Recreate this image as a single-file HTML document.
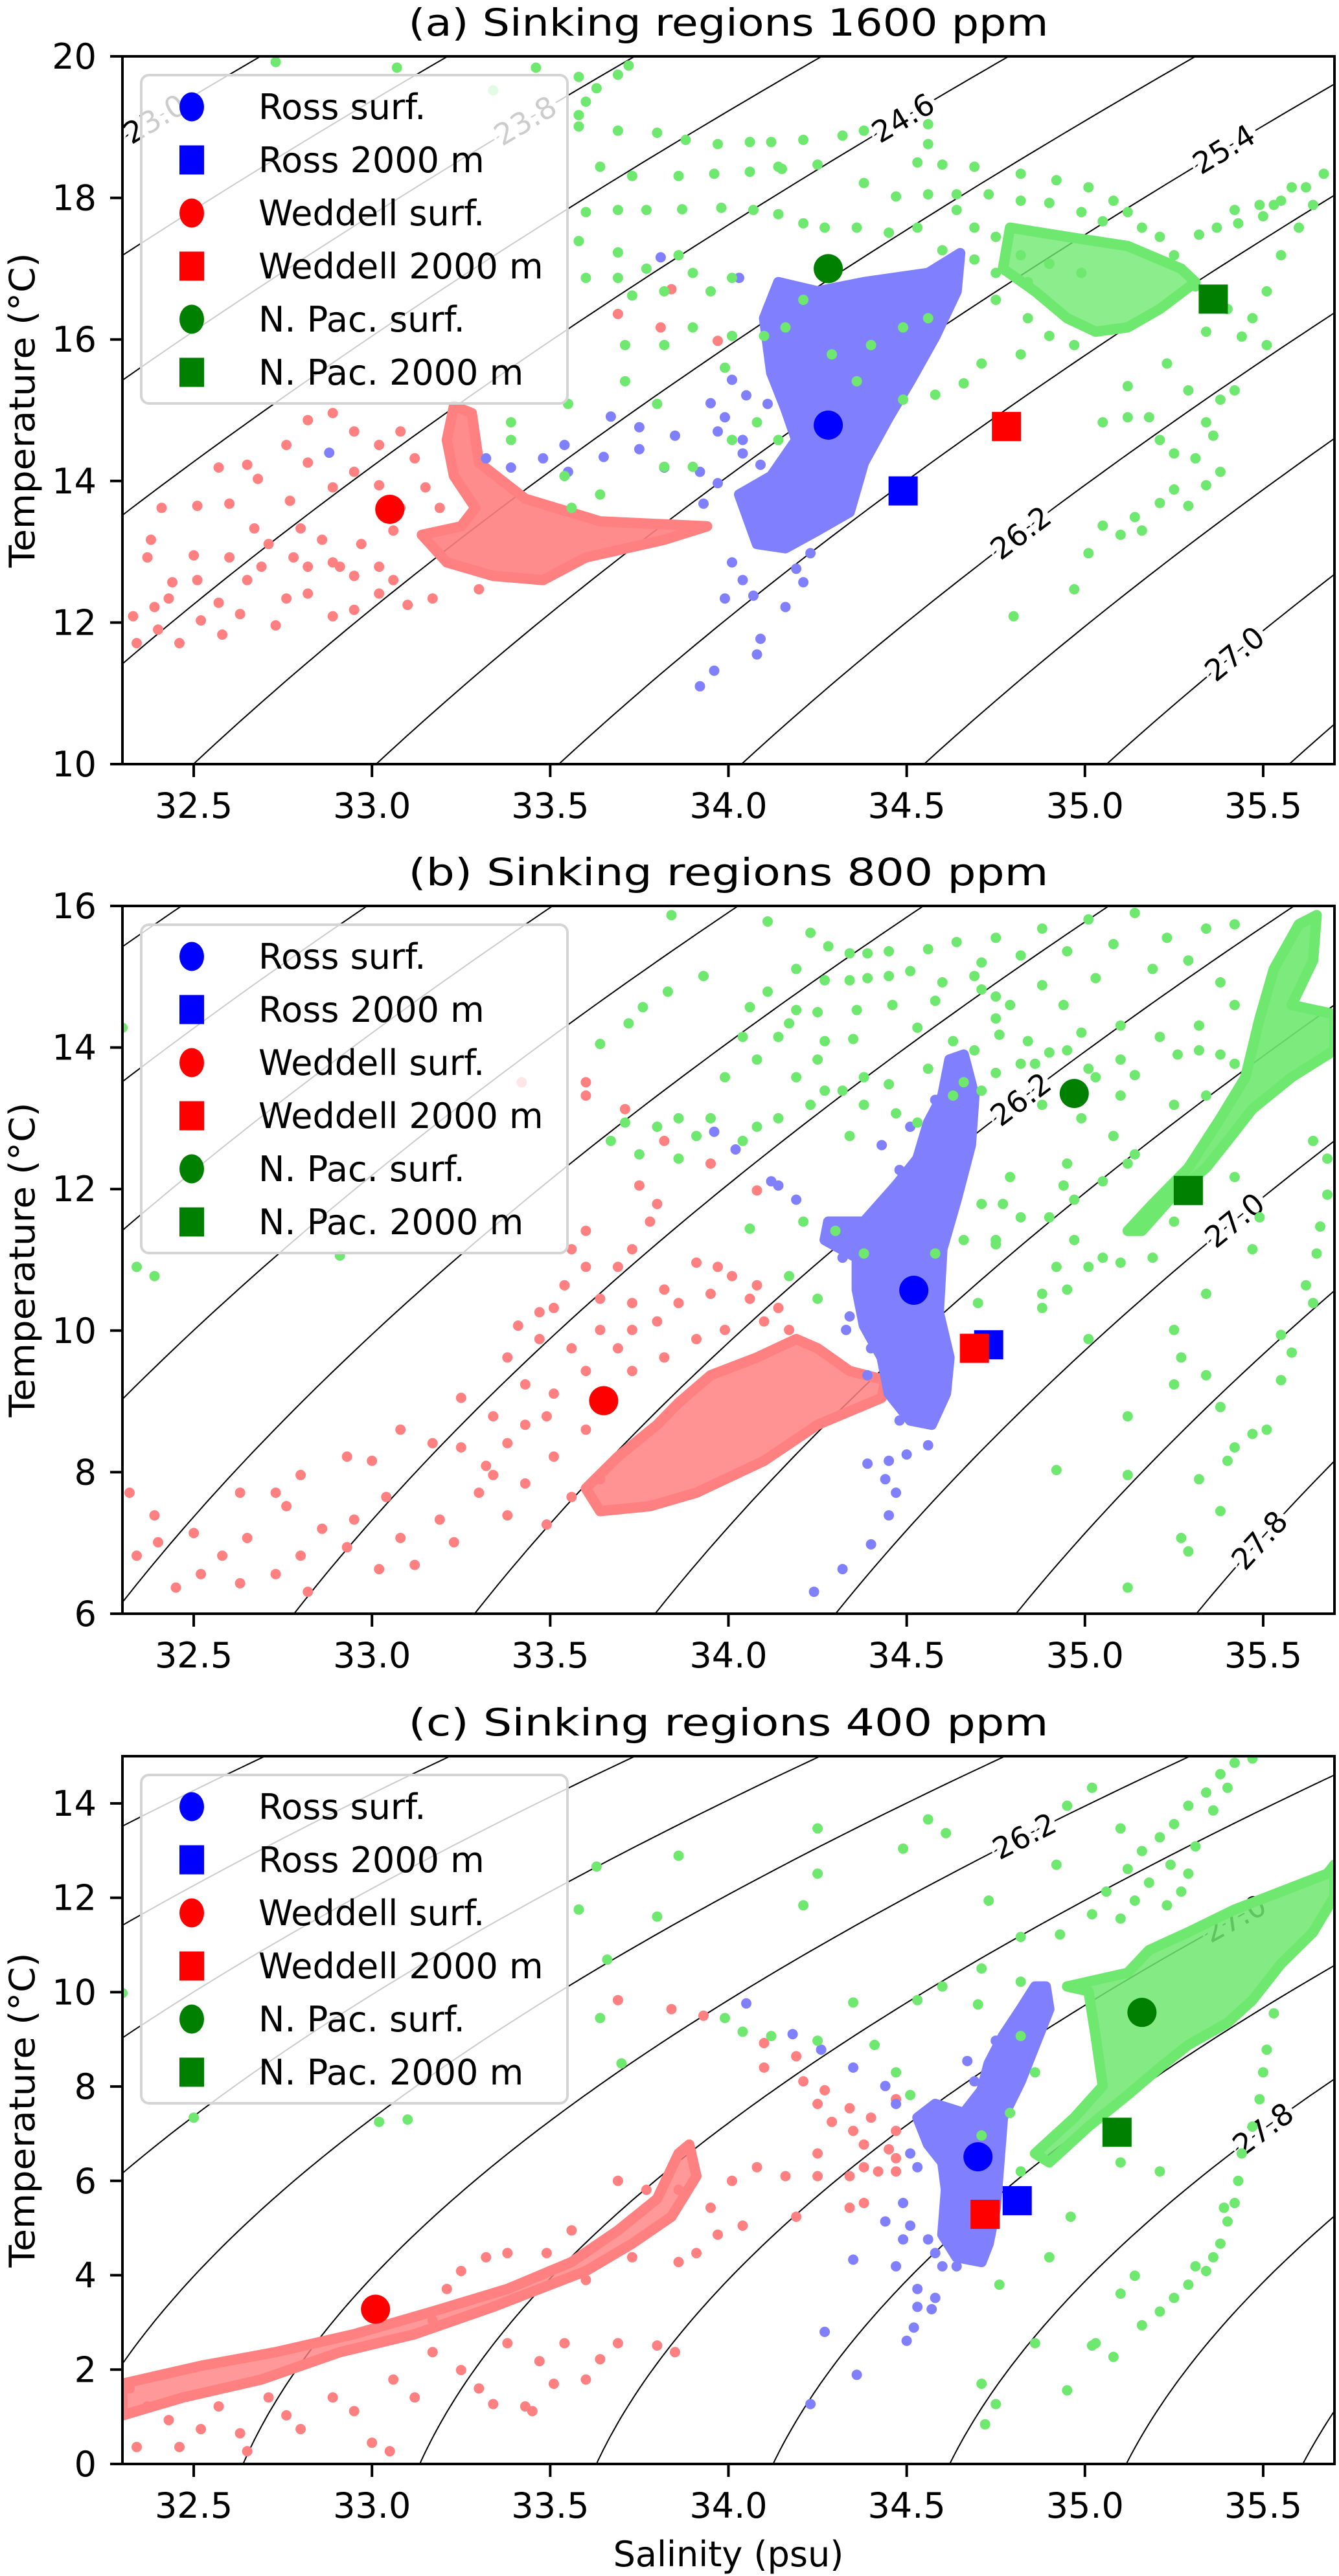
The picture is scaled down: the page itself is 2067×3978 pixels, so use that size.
<!DOCTYPE html>
<html><head><meta charset="utf-8"><title>Sinking regions T-S diagrams</title>
<style>html,body{margin:0;padding:0;background:#fff}svg{display:block}text{font-family:"DejaVu Sans","Liberation Sans",sans-serif}</style>
</head><body>
<svg id="fig" xmlns="http://www.w3.org/2000/svg" width="2067" height="3978" viewBox="0 0 2067 3978"></svg>
<script>
// ---------------- DATA (Salinity psu, Temperature °C pairs) ----------------
const panelTitles=["(a) Sinking regions 1600 ppm","(b) Sinking regions 800 ppm","(c) Sinking regions 400 ppm"];
const panelTRange=[[10,20],[6,16],[0,15]];
const panelYTicks=[[10,12,14,16,18,20],[6,8,10,12,14,16],[0,2,4,6,8,10,12,14]];
const xTicks=[32.5,33.0,33.5,34.0,34.5,35.0,35.5];
const xTickLabels=["32.5","33.0","33.5","34.0","34.5","35.0","35.5"];
const contourLabelsA=[[23.0,32.39],[23.8,33.43],[24.6,34.49],[25.4,35.39],[26.2,34.82],[27.0,35.42]];
const contourLabelsB=[[26.2,34.82],[27.0,35.42],[27.8,35.49]];
const contourLabelsC=[[26.2,34.83],[27.0,35.42],[27.8,35.50]];
const legendNames=["Ross surf.","Ross 2000 m","Weddell surf.","Weddell 2000 m","N. Pac. surf.","N. Pac. 2000 m"];
const markersA=[34.28,14.79, 34.49,13.86, 33.05,13.60, 34.78,14.77, 34.28,17.00, 35.36,16.57];
const markersB=[34.52,10.57, 34.73,9.80, 33.65,9.01, 34.69,9.75, 34.97,13.35, 35.29,11.98];
const markersC=[34.70,6.51, 34.81,5.58, 33.01,3.28, 34.72,5.29, 35.16,9.57, 35.09,7.03];

const aBlueCore=[34.10,16.30,34.14,16.81,34.25,16.68,34.38,16.81,34.56,16.94,34.65,17.22,34.64,16.68,34.58,16.04,34.51,15.41,34.45,14.90,34.38,14.26,34.34,13.56,34.25,13.30,34.16,13.05,34.08,13.11,34.03,13.81,34.12,14.07,34.19,14.58,34.16,15.02,34.12,15.53];
const aBluePts=[33.81,17.16,34.03,16.87,33.67,14.91,33.75,14.76,33.65,14.34,33.75,14.45,33.85,14.64,33.95,15.10,34.01,15.43,34.05,15.21,34.11,15.09,33.99,14.90,33.97,14.70,34.04,14.58,33.92,14.13,33.82,14.19,33.93,13.68,33.97,13.97,34.01,12.85,34.04,12.60,33.99,12.34,34.07,12.38,34.16,12.22,34.09,11.77,34.08,11.55,33.96,11.32,33.92,11.10,34.19,12.76,34.21,12.57,34.23,12.98,33.55,14.13,33.48,14.32,33.39,14.19,33.32,14.32,32.88,14.40,33.54,14.51,34.27,17.07,34.43,16.81,34.51,16.68,34.04,14.39,34.09,14.23];
const aRedCore=[33.23,15.06,33.28,14.96,33.30,14.26,33.43,13.75,33.64,13.43,33.94,13.36,33.82,13.17,33.60,12.92,33.48,12.60,33.34,12.66,33.21,12.85,33.14,13.24,33.25,13.36,33.29,13.62,33.23,14.07,33.21,14.58];
const aRedPts=[32.33,12.09,32.40,11.90,32.46,11.71,32.34,11.71,32.52,12.03,32.57,12.28,32.63,12.12,32.58,11.83,32.65,12.60,32.69,12.79,32.76,12.34,32.82,12.41,32.73,11.96,32.89,12.09,32.95,12.18,33.02,12.41,33.06,12.60,33.10,12.25,33.17,12.34,33.30,12.47,32.95,12.66,32.89,12.85,32.82,12.79,32.78,12.92,32.71,13.11,32.60,12.92,32.51,12.60,32.44,12.57,32.37,12.92,32.39,12.22,32.43,12.34,32.50,12.95,32.38,13.17,32.41,13.62,32.51,13.65,32.60,13.68,32.68,14.03,32.77,13.72,32.89,13.91,32.95,14.13,33.02,13.94,33.08,13.62,33.12,14.32,33.08,14.70,33.02,14.51,32.95,14.70,32.89,14.96,32.82,14.86,32.76,14.51,32.65,14.23,32.57,14.19,32.82,14.26,33.15,13.91,33.19,13.62,33.06,13.30,32.97,13.11,32.86,13.17,32.80,13.33,32.67,13.33,32.91,12.79,33.02,12.79,33.84,16.71,33.69,16.36,33.81,16.17,33.97,15.98];
const aGreenCore=[34.79,17.58,34.95,17.45,35.12,17.32,35.27,17.00,35.31,16.81,35.21,16.43,35.12,16.17,35.03,16.11,34.95,16.30,34.86,16.68,34.77,17.00];
const aGreenPts=[33.58,19.01,33.69,18.95,33.80,18.92,33.88,18.82,33.97,18.76,34.06,18.79,34.12,18.79,34.21,18.82,34.32,18.88,34.38,18.95,33.64,18.44,33.73,18.31,33.86,18.31,33.96,18.34,34.06,18.37,34.15,18.41,34.25,18.47,33.60,17.80,33.69,17.83,33.77,17.83,33.87,17.84,33.98,17.86,34.07,17.83,34.53,18.50,34.60,18.47,34.69,18.44,34.82,18.34,34.92,18.25,35.01,18.15,35.08,17.96,35.12,17.80,35.16,17.58,35.21,17.45,35.25,17.19,34.38,18.21,34.47,18.02,34.56,18.05,34.64,18.05,34.73,18.05,34.82,17.96,34.90,17.93,34.99,17.80,35.05,17.67,34.64,17.83,34.69,17.58,34.75,17.45,34.82,17.19,34.90,17.07,34.99,16.94,35.42,17.83,35.49,17.90,35.55,17.96,35.62,18.15,35.67,18.34,35.64,17.90,35.60,17.58,35.55,17.19,35.51,16.68,35.47,16.30,35.51,15.92,35.44,16.04,35.40,16.43,35.34,16.11,35.31,16.75,35.23,15.66,35.29,15.28,35.38,15.15,35.42,15.28,35.12,14.90,35.18,14.90,35.34,14.83,35.36,14.64,35.21,14.58,35.25,14.39,35.31,14.32,35.38,14.13,35.34,13.94,35.25,13.88,35.21,13.69,35.29,13.65,35.14,13.49,35.10,13.24,35.16,13.30,35.05,13.37,35.01,12.98,34.97,12.47,34.80,12.09,35.05,14.83,35.12,15.34,34.14,17.77,34.21,17.64,34.27,17.58,34.36,17.58,34.45,17.51,34.53,17.58,34.60,17.26,34.69,17.13,34.75,16.94,34.84,16.81,34.75,16.56,34.84,16.30,34.90,16.05,34.97,15.92,34.82,15.79,34.71,15.66,34.66,15.38,34.58,15.22,34.49,15.15,34.36,15.41,34.29,15.79,34.40,15.92,34.49,16.17,34.56,16.30,34.21,16.56,34.16,16.17,34.10,16.05,34.01,16.05,34.01,16.87,33.95,16.68,33.82,16.68,33.73,16.62,33.69,16.87,33.60,16.87,33.58,17.39,33.69,17.23,33.77,17.00,33.86,17.19,33.90,16.17,33.82,15.92,33.71,15.41,33.80,15.09,33.99,15.60,34.08,14.83,34.14,14.58,34.01,14.58,33.90,14.20,33.82,14.20,33.64,13.81,33.56,13.62,33.54,14.07,33.39,14.83,33.39,14.58,33.55,15.09,33.71,15.92,33.90,16.94,34.56,19.04,34.56,18.76,34.14,18.44,33.58,19.71,33.60,19.36,33.63,19.55,33.69,19.74,33.72,19.87,33.46,19.84,32.73,19.92,33.07,19.84,33.34,19.52,33.58,19.17,35.58,18.15,35.53,17.90,35.50,17.74,35.43,17.64,35.37,17.58,35.32,17.48];

const bRedCore=[34.44,9.30,34.43,9.05,34.25,8.67,34.10,8.16,33.91,7.71,33.78,7.52,33.64,7.45,33.60,7.77,33.69,8.22,33.80,8.67,33.86,8.98,33.95,9.37,34.08,9.62,34.19,9.88,34.25,9.75,34.34,9.43];
const bRedPts=[32.32,7.71,32.39,7.39,32.34,6.82,32.40,7.01,32.45,6.37,32.52,6.56,32.50,7.14,32.58,6.82,32.65,7.07,32.63,6.43,32.73,6.56,32.80,6.82,32.76,7.52,32.86,7.20,32.82,6.31,32.93,6.94,32.95,7.33,33.02,6.63,33.08,7.07,33.04,7.65,33.12,6.69,33.19,7.33,33.23,7.01,33.30,7.71,33.32,8.09,33.38,7.39,33.43,7.84,33.49,7.26,33.51,8.22,33.56,7.65,33.64,7.90,33.25,8.35,33.17,8.41,33.08,8.60,33.00,8.16,32.93,8.22,32.80,7.96,32.73,7.71,32.63,7.71,33.25,9.05,33.34,8.79,33.43,8.67,33.49,8.79,33.60,8.60,33.38,8.41,33.34,7.96,33.51,9.11,33.43,9.24,33.38,9.62,33.41,10.07,33.47,9.88,33.51,10.32,33.54,10.64,33.60,10.90,33.60,11.41,33.69,10.90,33.73,11.15,33.78,11.54,33.80,11.79,33.75,12.05,33.73,10.39,33.82,10.58,33.91,10.96,33.97,10.90,34.01,10.77,34.08,10.64,34.14,10.32,34.10,10.13,33.99,10.01,33.91,9.88,33.82,9.62,33.73,9.43,33.69,9.75,33.64,10.01,33.56,9.75,33.60,9.43,33.80,10.13,33.86,10.39,33.95,10.52,34.06,10.45,34.17,10.01,33.60,13.51,33.60,13.32,33.42,13.51,33.71,13.13,33.82,12.68,33.95,12.36,34.08,11.98,33.56,11.15,33.64,10.45,33.47,10.26,33.73,10.01];
const bBlueCore=[34.66,13.90,34.69,13.32,34.68,12.62,34.64,11.85,34.60,11.15,34.59,10.26,34.62,9.62,34.61,9.11,34.57,8.67,34.51,8.73,34.45,9.11,34.43,9.62,34.38,10.07,34.36,10.58,34.36,11.03,34.27,11.28,34.28,11.54,34.38,11.54,34.47,12.05,34.53,12.43,34.56,12.94,34.60,13.32,34.62,13.83];
const bBluePts=[34.48,12.27,34.51,12.88,34.43,12.62,34.58,13.26,34.64,13.58,34.47,11.54,34.32,11.03,34.34,10.20,34.40,9.75,34.33,10.01,34.39,9.37,34.45,8.16,34.50,8.25,34.44,7.90,34.47,7.71,34.45,7.39,34.40,6.98,34.32,6.63,34.24,6.31,34.39,8.12,34.14,12.05,34.19,11.85,34.12,12.11,34.02,12.56,33.96,12.81,34.48,8.73,34.56,8.38];
const bGreenCore=[35.12,11.41,35.19,11.79,35.29,12.30,35.38,13.00,35.45,13.58,35.49,14.41,35.53,15.11,35.60,15.74,35.65,15.87,35.64,15.23,35.58,14.60,35.70,14.47,35.70,13.96,35.58,13.58,35.47,13.13,35.40,12.68,35.34,12.30,35.25,11.92,35.16,11.41];
const bGreenPts=[33.84,15.87,34.11,15.78,34.23,15.62,34.64,15.49,34.75,15.55,34.88,15.68,35.01,15.81,35.14,15.90,35.42,15.74,35.34,15.68,35.23,15.55,35.08,15.46,34.95,15.36,34.82,15.30,34.71,15.20,34.56,15.39,34.45,15.36,34.39,15.33,34.34,15.33,34.28,15.43,34.27,14.95,34.34,14.95,34.39,14.98,34.45,15.01,34.51,15.08,34.19,15.11,33.93,15.01,33.83,14.79,34.11,14.79,34.60,14.92,34.71,14.82,34.88,14.88,35.03,14.98,35.19,15.11,35.29,15.23,35.38,14.92,35.42,14.60,35.32,14.31,35.21,14.15,35.10,14.31,34.99,14.21,34.94,14.60,34.75,14.41,34.58,14.66,34.46,14.60,34.36,14.53,34.25,14.50,34.19,14.53,34.06,14.57,33.76,14.57,33.72,14.34,33.64,14.05,34.04,14.15,34.14,14.15,34.17,14.34,34.27,14.09,34.35,14.12,34.53,14.28,34.63,14.09,34.76,14.18,34.84,14.09,34.90,13.93,35.01,13.70,35.10,13.83,35.14,13.61,35.26,13.90,35.32,13.96,35.38,13.90,35.42,13.77,35.34,13.32,35.25,13.19,35.10,13.32,35.03,13.58,34.95,13.96,34.86,13.77,34.75,13.64,34.66,13.51,34.56,13.70,34.45,13.48,34.38,13.58,34.32,13.39,34.23,13.19,34.14,13.00,34.08,12.88,34.04,12.68,33.95,13.00,33.86,13.00,33.80,12.88,33.71,12.94,33.67,12.68,33.75,12.49,33.86,12.43,33.91,12.75,33.99,13.58,34.08,13.83,34.19,13.58,34.25,13.83,34.27,13.39,34.38,13.19,34.34,12.75,34.47,13.07,34.53,12.94,34.63,13.32,34.71,13.39,34.82,13.77,34.88,13.19,34.99,13.00,35.08,12.75,35.14,12.49,34.95,12.36,34.79,12.17,34.77,11.79,34.82,11.60,34.75,11.22,34.71,11.79,34.94,12.05,35.05,12.11,35.12,12.36,34.97,11.85,34.90,11.60,34.97,11.28,35.05,11.03,35.01,10.90,34.92,10.90,34.88,10.52,34.95,10.58,34.88,10.32,34.70,10.39,34.75,11.28,34.66,11.28,34.58,11.09,34.38,11.09,34.30,11.41,34.21,11.54,34.06,11.44,34.17,10.77,34.25,10.45,35.25,10.01,35.27,9.62,35.34,9.37,35.25,9.24,35.12,8.79,35.01,9.88,34.92,8.03,35.12,7.96,35.32,7.90,35.40,8.16,35.42,8.35,35.47,8.54,35.51,8.60,35.38,8.92,35.38,7.45,35.27,7.07,35.29,6.88,35.12,6.37,35.55,9.30,35.58,9.69,35.55,9.94,35.64,10.39,35.62,10.64,35.65,11.09,35.66,11.47,35.68,11.92,35.68,12.43,35.64,12.68,35.49,11.60,35.47,11.15,35.34,10.52,35.42,12.17,35.25,11.54,35.19,11.03,35.10,10.96,34.69,13.96,34.79,14.60,34.69,15.01,34.75,14.72,32.34,10.90,32.39,10.77,32.91,11.06,32.30,14.28];

const cRedCore=[32.30,1.70,32.52,2.08,32.73,2.37,32.95,2.75,33.17,3.23,33.38,3.71,33.56,4.28,33.69,4.95,33.80,5.62,33.86,6.58,33.89,6.77,33.91,6.10,33.84,5.24,33.73,4.67,33.60,4.09,33.47,3.71,33.34,3.33,33.12,2.75,32.91,2.37,32.69,1.79,32.47,1.41,32.30,1.03];
const cRedPts=[32.32,1.60,32.37,1.22,32.43,0.93,32.34,0.36,32.46,0.36,32.52,0.74,32.57,1.22,32.63,0.65,32.65,0.27,32.71,1.41,32.76,1.03,32.80,0.74,32.89,1.41,32.95,1.12,33.00,0.45,33.05,0.27,33.06,1.79,33.12,1.41,33.17,2.37,33.25,1.99,33.30,1.60,33.38,2.56,33.43,1.22,33.47,2.18,33.54,2.56,33.60,1.79,33.64,2.22,33.69,2.56,33.80,2.51,33.85,2.37,33.34,1.27,33.45,1.12,33.51,1.70,33.69,6.00,33.77,5.81,33.86,5.81,33.95,5.43,34.01,6.00,34.08,6.29,34.16,6.10,34.25,6.10,34.34,6.10,34.38,6.29,34.25,6.58,34.34,5.43,34.38,5.53,34.42,6.20,34.45,6.67,34.47,6.48,34.19,5.24,34.04,5.05,33.97,4.86,33.91,4.47,33.86,4.28,33.73,4.38,33.60,3.90,33.56,4.95,33.49,4.47,33.38,4.47,33.32,4.38,33.25,4.09,33.21,3.71,33.17,3.04,33.69,9.83,33.84,9.64,33.93,9.50,34.10,8.92,34.19,8.64,34.10,8.40,34.21,8.11,34.27,7.92,34.34,7.54,34.40,7.34,34.47,7.06,34.35,7.06,34.29,7.25,34.25,7.63,34.38,6.77,34.47,6.20,34.47,7.73];
const cBlueCore=[34.89,10.12,34.90,9.64,34.86,8.88,34.82,8.11,34.77,7.34,34.76,6.39,34.75,5.43,34.73,4.67,34.71,4.28,34.64,4.38,34.60,4.86,34.61,5.81,34.60,6.39,34.56,6.77,34.53,7.34,34.58,7.63,34.66,7.44,34.71,7.92,34.73,8.49,34.77,9.07,34.82,9.64,34.86,10.12];
const cBluePts=[34.51,6.58,34.53,6.29,34.49,5.53,34.51,5.05,34.49,4.76,34.56,4.76,34.58,4.47,34.60,4.19,34.64,4.19,34.47,4.19,34.53,3.71,34.58,3.52,34.53,3.33,34.57,3.28,34.52,2.89,34.50,2.61,34.36,1.89,34.27,2.80,34.23,1.27,34.35,4.33,34.44,5.14,34.69,8.11,34.75,8.97,34.67,8.54,34.44,8.01,34.35,8.40,34.26,8.78,34.18,9.11,34.05,9.76,34.47,7.63];
const cGreenCore=[34.86,6.58,34.97,7.34,35.05,8.01,35.03,9.07,35.01,10.02,34.95,10.12,35.12,10.41,35.18,10.89,35.29,11.27,35.42,11.75,35.55,12.13,35.68,12.51,35.70,12.70,35.70,12.03,35.64,11.27,35.55,10.60,35.47,9.83,35.40,9.35,35.29,8.88,35.21,8.40,35.12,7.82,35.01,7.15,34.90,6.39];
const cGreenPts=[35.02,11.65,35.06,12.13,35.12,12.61,35.16,12.99,35.21,13.28,35.25,13.56,35.29,13.95,35.34,14.23,35.38,14.62,35.42,14.86,35.47,14.95,35.31,13.09,35.36,13.85,35.40,14.33,35.24,12.70,35.18,12.32,35.14,11.94,35.10,11.56,35.29,12.51,35.27,12.13,35.23,11.84,35.53,9.55,35.51,8.78,35.50,8.30,35.49,7.73,35.47,7.15,35.44,6.58,35.43,6.00,35.42,5.53,35.40,5.14,35.38,4.67,35.36,4.38,35.34,4.09,35.29,3.80,35.25,3.52,35.21,3.23,35.16,2.94,35.10,3.61,35.03,2.56,35.14,3.99,35.31,4.19,35.39,5.43,35.10,13.47,35.02,14.33,34.95,13.95,34.92,12.70,34.82,11.17,34.73,11.94,34.71,10.50,34.56,13.66,34.61,13.37,34.49,13.04,34.25,13.47,34.25,12.51,34.21,11.84,33.86,12.89,33.80,11.60,33.63,12.66,33.58,11.75,33.66,10.69,33.64,9.45,33.70,8.49,33.99,9.45,34.04,9.16,34.12,9.07,34.25,8.97,34.35,9.78,34.41,8.88,34.53,9.83,34.60,10.12,34.70,9.74,34.82,9.07,34.82,10.22,34.93,11.22,34.86,8.30,34.79,7.44,34.82,6.20,34.90,4.38,34.96,5.24,34.76,3.80,34.86,2.56,35.02,2.51,35.08,2.27,34.71,1.70,34.75,1.27,34.95,1.56,34.72,0.84,35.10,6.39,35.21,6.20,34.47,8.30,34.51,7.82,34.71,6.96,33.02,7.25,33.10,7.30,32.50,7.34,32.30,9.98];

// ---------------- LAYOUT ----------------
const NS="http://www.w3.org/2000/svg";
const svg=document.getElementById('fig');
const PL=189, PW=1871, PH=1093, SMIN=32.3, SMAX=35.7;
const panelTops=[87,1399,2712];
const COL={red:"#ff8080",blue:"#8080ff",green:"#6ee86e"};
const MCOL=["#0000ff","#0000ff","#ff0000","#ff0000","#008000","#008000"];
function mk(tag,attrs,parent){const e=document.createElementNS(NS,tag);for(const k in attrs)e.setAttribute(k,attrs[k]);(parent||svg).appendChild(e);return e;}
function xS(s){return PL+(s-SMIN)/(SMAX-SMIN)*PW;}
function sigma0(S,T){
  const rw=999.842594+6.793952e-2*T-9.095290e-3*T*T+1.001685e-4*T**3-1.120083e-6*T**4+6.536332e-9*T**5;
  const A=8.24493e-1-4.0899e-3*T+7.6438e-5*T*T-8.2467e-7*T**3+5.3875e-9*T**4;
  const B=-5.72466e-3+1.0227e-4*T-1.6546e-6*T*T;
  return rw+A*S+B*Math.pow(S,1.5)+4.8314e-4*S*S-1000;
}
function solveS(level,T){let lo=20,hi=45;for(let i=0;i<50;i++){const m=(lo+hi)/2;if(sigma0(m,T)<level)lo=m;else hi=m;}return (lo+hi)/2;}
function solveT(level,S){let lo=-3,hi=40;for(let i=0;i<50;i++){const m=(lo+hi)/2;if(sigma0(S,m)>level)lo=m;else hi=m;}return (lo+hi)/2;}

const labelSets=[contourLabelsA,contourLabelsB,contourLabelsC];
const markerSets=[markersA,markersB,markersC];
const cores=[[aRedCore,aBlueCore,aGreenCore],[bRedCore,bBlueCore,bGreenCore],[cRedCore,cBlueCore,cGreenCore]];
const pts=[[aRedPts,aBluePts,aGreenPts],[bRedPts,bBluePts,bGreenPts],[cRedPts,cBluePts,cGreenPts]];
const coreOpacity=[[0.9,1,0.8],[0.85,1,0.9],[0.8,1,0.85]];
const clusterNames=["weddell","ross","npac"];
const clusterCols=[COL.red,COL.blue,COL.green];

for(let p=0;p<3;p++){
  const top=panelTops[p], tmin=panelTRange[p][0], tmax=panelTRange[p][1];
  const yT=t=>top+(tmax-t)/(tmax-tmin)*PH;
  const g=mk('g',{});
  
  
  const cp=mk('clipPath',{id:'clip'+p},g);
  mk('rect',{x:PL,y:top,width:PW,height:PH},cp);
  const title=mk('text',{x:PL+PW/2,y:top-32,'text-anchor':'middle','font-size':58,textLength:988,lengthAdjust:'spacingAndGlyphs'},g);
  title.textContent=panelTitles[p];
  
  
  const cg=mk('g',{'clip-path':'url(#clip'+p+')'},g);
  
  
  for(let k=0;k<=24;k++){
    const lev=20.2+0.4*k;
    let d='';
    for(let t=tmin-1;t<=tmax+1.001;t+=0.1){
      const s=solveS(lev,t);
      d+=(d?'L':'M')+xS(s).toFixed(1)+','+yT(t).toFixed(1);
    }
    const path=mk('path',{d:d,fill:'none',stroke:'#000','stroke-width':2},cg);
    
    
  }
  for(const [lev,s] of labelSets[p]){
    const t=solveT(lev,s);
    const s1=solveS(lev,t-0.3), s2=solveS(lev,t+0.3);
    const ang=Math.atan2(yT(t+0.3)-yT(t-0.3),xS(s2)-xS(s1))*180/Math.PI;
    const lx=xS(s), ly=yT(t);
    const lt=mk('text',{x:lx,y:ly,'text-anchor':'middle','dominant-baseline':'central','font-size':46,fill:'#000',stroke:'#fff','stroke-width':16,'paint-order':'stroke',transform:`rotate(${ang.toFixed(1)} ${lx.toFixed(1)} ${ly.toFixed(1)})`},g);
    lt.textContent=lev.toFixed(1);
    
    
  }
  const sg=mk('g',{'clip-path':'url(#clip'+p+')'},g);
  
  
  for(let c=0;c<3;c++){
    const core=cores[p][c];
    let pp='';
    for(let i=0;i<core.length;i+=2)pp+=xS(core[i]).toFixed(1)+','+yT(core[i+1]).toFixed(1)+' ';
    const poly=mk('polygon',{points:pp,fill:clusterCols[c],'fill-opacity':coreOpacity[p][c],stroke:clusterCols[c],'stroke-width':16,'stroke-linejoin':'round'},sg);
    
    
    const arr=pts[p][c];
    for(let i=0;i<arr.length;i+=2){
      const dot=mk('circle',{cx:xS(arr[i]).toFixed(1),cy:yT(arr[i+1]).toFixed(1),r:8,fill:clusterCols[c]},sg);
      
      
    }
  }
  const mset=markerSets[p];
  for(let m=0;m<6;m++){
    const cx=xS(mset[2*m]), cy=yT(mset[2*m+1]);
    let el;
    if(m%2===0) el=mk('circle',{cx:cx,cy:cy,r:22.5,fill:MCOL[m]},g);
    else el=mk('rect',{x:cx-22.5,y:cy-22.5,width:45,height:45,fill:MCOL[m]},g);
    
    
  }
  const lg=mk('g',{},g);
  
  
  mk('rect',{x:218,y:top+29,width:658,height:507,rx:12,fill:'#fff','fill-opacity':0.8,stroke:'#d4d4d4','stroke-width':4},lg);
  for(let m=0;m<6;m++){
    const cy=top+78+82*m;
    const e=mk('g',{},lg);
    
    
    if(m%2===0) mk('ellipse',{cx:296,cy:cy,rx:19,ry:22.5,fill:MCOL[m]},e);
    else mk('rect',{x:277,y:cy-22.5,width:38,height:45,fill:MCOL[m]},e);
    const tx=mk('text',{x:399,y:cy+19,'font-size':54},e);
    tx.textContent=legendNames[m];
  }
  const fr=mk('rect',{x:PL,y:top,width:PW,height:PH,fill:'none',stroke:'#000','stroke-width':4},g);
  
  
  for(const t of panelYTicks[p]){
    const y=yT(t);
    mk('line',{x1:PL-19,x2:PL,y1:y,y2:y,stroke:'#000','stroke-width':4},g);
    const tl=mk('text',{x:149,y:y+19,'text-anchor':'end','font-size':54},g);
    tl.textContent=String(t);
    
    
  }
  for(let i=0;i<xTicks.length;i++){
    const x=xS(xTicks[i]);
    mk('line',{x1:x,x2:x,y1:top+PH,y2:top+PH+20,stroke:'#000','stroke-width':4},g);
    const tl=mk('text',{x:x,y:top+PH+83,'text-anchor':'middle','font-size':54},g);
    tl.textContent=xTickLabels[i];
    
    
  }
  const yl=mk('text',{x:0,y:0,'text-anchor':'middle','font-size':54,textLength:486,lengthAdjust:'spacingAndGlyphs',transform:`translate(53 ${top+PH/2}) rotate(-90)`},g);
  yl.textContent='Temperature (°C)';
  
  
}
const xl=mk('text',{x:PL+PW/2,y:3963,'text-anchor':'middle','font-size':54});
xl.textContent='Salinity (psu)';


</script>
</body></html>
